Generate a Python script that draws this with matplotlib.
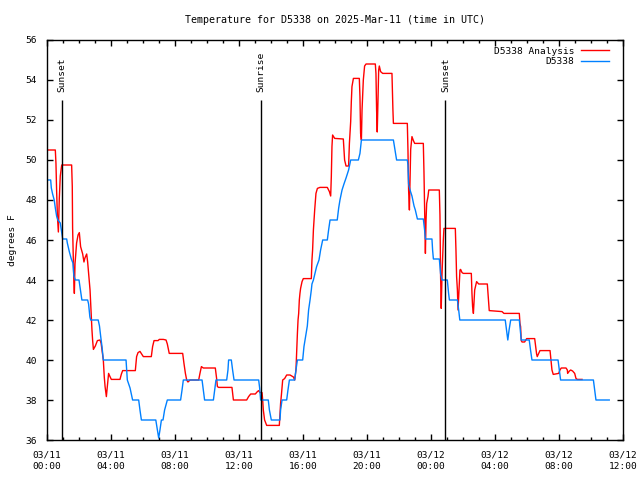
import matplotlib
matplotlib.use("Agg")
import matplotlib.pyplot as plt

# hours since 03/11 00:00 UTC
blue_t = [0.00, 0.23, 0.27, 0.35, 0.45, 0.52, 0.60, 0.68, 0.83, 0.98, 1.23, 1.27, 1.40, 1.52, 1.62,
          1.68, 1.77, 2.00, 2.08, 2.18, 2.54, 2.60, 2.68, 2.73, 3.20, 3.28, 3.36, 3.44, 3.52, 4.94,
          5.02, 5.19, 5.35, 5.73, 5.81, 5.90, 6.80, 6.90, 6.98, 7.06, 7.15, 7.25, 7.35, 7.52, 8.35,
          8.44, 8.52, 9.69, 9.77, 9.85, 10.40, 10.48, 10.56, 11.23, 11.31, 11.35, 11.52, 11.60, 11.69,
          13.23, 13.29, 13.35, 13.83, 13.90, 14.02, 14.56, 14.60, 14.69, 14.98, 15.06, 15.15, 15.48,
          15.56, 15.65, 15.98, 16.06, 16.19, 16.27, 16.35, 16.44, 16.52, 16.56, 16.65, 16.85, 17.00,
          17.10, 17.23, 17.52, 17.60, 17.69, 18.14, 18.23, 18.31, 18.44, 18.56, 18.69, 18.85, 18.98,
          19.46, 19.56, 19.65, 21.65, 21.73, 21.85, 22.52, 22.56, 22.60, 22.69, 22.81, 22.94, 23.02,
          23.15, 23.52, 23.60, 23.65, 24.06, 24.10, 24.15, 24.52, 24.60, 24.69, 25.02, 25.10, 25.15,
          25.65, 25.73, 25.80, 28.64, 28.72, 28.80, 28.88, 28.98, 29.52, 29.58, 29.64, 30.14, 30.22,
          30.31, 31.94, 32.02, 32.10, 34.15, 34.23, 34.31, 35.14]
blue_v = [49.0, 49.0, 48.6, 48.3, 48.0, 47.6, 47.2, 47.0, 46.85, 46.05, 46.05, 45.85, 45.4, 45.05, 44.85,
          44.2, 44.0, 44.0, 43.55, 43.0, 43.0, 42.8, 42.15, 42.0, 42.0, 41.7, 41.15, 40.65, 40.0, 40.0,
          39.0, 38.6, 38.0, 38.0, 37.5, 37.0, 37.0, 36.5, 36.1, 36.5, 37.0, 37.0, 37.5, 38.0, 38.0,
          38.5, 39.0, 39.0, 38.5, 38.0, 38.0, 38.5, 39.0, 39.0, 39.5, 40.0, 40.0, 39.5, 39.0,
          39.0, 38.6, 38.0, 38.0, 37.5, 37.0, 37.0, 37.5, 38.0, 38.0, 38.5, 39.0, 39.0,
          39.5, 40.0, 40.0, 40.67, 41.3, 41.7, 42.5, 43.0, 43.5, 43.8, 44.0, 44.67, 45.0,
          45.5, 46.0, 46.0, 46.5, 47.0, 47.0, 47.6, 48.0, 48.5, 48.8, 49.1, 49.5, 50.0,
          50.0, 50.33, 51.0, 51.0, 50.6, 50.0, 50.0, 49.75, 48.8, 48.5, 48.2, 47.7, 47.5,
          47.05, 47.05, 46.5, 46.05, 46.05, 45.5, 45.05, 45.05, 44.3, 44.0, 44.0, 43.33, 43.0,
          43.0, 42.5, 42.0, 42.0, 41.5, 41.0, 41.5, 42.0, 42.0, 41.5, 41.0, 41.0, 40.5,
          40.0, 40.0, 39.5, 39.0, 39.0, 38.5, 38.0, 38.0]

red_t = [0.00, 0.52, 0.56, 0.60, 0.65, 0.71, 0.77, 0.83, 0.92, 1.54, 1.58, 1.60, 1.67, 1.71, 1.75,
         1.85, 1.94, 2.02, 2.10, 2.23, 2.31, 2.37, 2.48, 2.54, 2.60, 2.69, 2.75, 2.81, 2.85, 2.90,
         3.02, 3.15, 3.31, 3.38, 3.52, 3.58, 3.63, 3.71, 3.75, 3.85, 3.92, 4.02, 4.56, 4.65, 4.73,
         5.52, 5.60, 5.69, 5.81, 5.94, 6.02, 6.52, 6.60, 6.69, 6.94, 7.02, 7.27, 7.44, 7.52, 7.64,
         8.48, 8.56, 8.65, 8.73, 8.81, 8.94, 9.48, 9.56, 9.65, 9.77, 10.52, 10.60, 10.65, 10.73,
         11.56, 11.65, 12.48, 12.60, 12.73, 13.02, 13.15, 13.23, 13.31, 13.44, 13.48, 13.52, 13.60,
         13.73, 14.52, 14.60, 14.65, 14.73, 14.85, 14.98, 15.19, 15.40, 15.48, 15.56, 15.60, 15.65,
         15.69, 15.73, 15.77, 15.81, 15.85, 15.94, 16.02, 16.52, 16.56, 16.60, 16.65, 16.73, 16.81,
         16.90, 17.06, 17.52, 17.65, 17.73, 17.77, 17.81, 17.85, 17.98, 18.52, 18.60, 18.69, 18.85,
         18.90, 18.98, 19.02, 19.06, 19.15, 19.52, 19.56, 19.60, 19.65, 19.69, 19.77, 19.85, 19.94,
         20.52, 20.56, 20.60, 20.64, 20.69, 20.73, 20.77, 20.85, 20.98, 21.56, 21.62, 21.65, 22.52,
         22.56, 22.60, 22.65, 22.73, 22.81, 22.90, 22.98, 23.52, 23.56, 23.60, 23.65, 23.69, 23.73,
         23.81, 23.86, 24.52, 24.56, 24.60, 24.64, 24.69, 24.77, 24.81, 25.52, 25.56, 25.60, 25.65,
         25.69, 25.77, 25.81, 25.85, 25.94, 26.02, 26.52, 26.56, 26.60, 26.65, 26.73, 26.85, 26.98,
         27.52, 27.56, 27.60, 27.64, 28.44, 28.56, 29.52, 29.56, 29.60, 29.64, 29.69, 29.85, 29.98,
         30.48, 30.56, 30.60, 30.64, 30.73, 30.81, 31.44, 31.52, 31.56, 31.64, 31.98, 32.06, 32.14,
         32.44, 32.52, 32.54, 32.65, 32.73, 32.85, 32.98, 33.06, 33.14, 33.44]
red_v = [50.5, 50.5, 49.83, 48.5, 47.2, 46.4, 48.1, 49.2, 49.75, 49.75, 48.67, 46.6, 44.2, 43.33, 44.8,
         45.85, 46.25, 46.37, 45.67, 45.3, 44.9, 45.1, 45.3, 44.9, 44.33, 43.5, 42.5, 41.5, 41.0, 40.53,
         40.7, 40.97, 41.0, 40.85, 40.0, 39.15, 38.67, 38.17, 38.5, 39.33, 39.2, 39.03, 39.03, 39.3, 39.47,
         39.47, 40.17, 40.37, 40.43, 40.27, 40.17, 40.17, 40.67, 40.97, 40.97, 41.03, 41.03, 41.0, 40.8, 40.33,
         40.33, 39.83, 39.33, 39.0, 38.9, 39.0, 39.0, 39.33, 39.67, 39.6, 39.6, 39.08, 38.67, 38.63,
         38.63, 38.0, 38.0, 38.17, 38.3, 38.3, 38.42, 38.47, 38.37, 38.37, 38.0, 37.5, 37.0,
         36.73, 36.73, 37.83, 38.25, 39.0, 39.07, 39.25, 39.25, 39.15, 39.0, 39.5, 40.33, 41.33,
         42.0, 42.33, 43.0, 43.33, 43.58, 43.92, 44.07, 44.07, 45.0, 45.5, 46.5, 47.5, 48.33,
         48.58, 48.63, 48.63, 48.42, 48.2, 49.17, 50.67, 51.25, 51.08, 51.05, 50.0, 49.7, 49.7,
         50.83, 51.92, 52.92, 53.67, 54.08, 54.08, 53.17, 51.33, 51.0, 52.5, 54.0, 54.7, 54.8,
         54.8, 54.33, 52.5, 51.4, 53.0, 54.5, 54.7, 54.42, 54.33, 54.33, 52.5, 51.83, 51.83,
         50.5, 48.5, 47.5, 50.53, 51.17, 50.97, 50.83, 50.83, 49.42, 47.5, 45.33, 47.0, 47.83,
         48.17, 48.5, 48.5, 47.25, 44.17, 42.58, 44.33, 46.0, 46.58, 46.58, 45.5, 44.17, 43.5,
         42.5, 43.83, 44.5, 44.53, 44.37, 44.33, 44.33, 43.33, 42.67, 42.33, 43.5, 43.92, 43.8,
         43.8, 43.33, 42.83, 42.47, 42.42, 42.33, 42.33, 41.83, 41.67, 40.97, 40.9, 40.9, 41.07,
         41.07, 40.58, 40.3, 40.17, 40.33, 40.47, 40.47, 39.83, 39.5, 39.28, 39.33, 39.5, 39.6,
         39.6, 39.5, 39.33, 39.45, 39.5, 39.45, 39.33, 39.08, 39.03, 39.03]

sun_times = [0.96, 13.35, 24.9]
sun_labels = ["Sunset", "Sunrise", "Sunset"]

tick_hours = [0, 4, 8, 12, 16, 20, 24, 28, 32, 36]
tick_labels = ["03/11\n00:00", "03/11\n04:00", "03/11\n08:00", "03/11\n12:00", "03/11\n16:00",
               "03/11\n20:00", "03/12\n00:00", "03/12\n04:00", "03/12\n08:00", "03/12\n12:00"]

plt.rcParams["font.family"] = ["DejaVu Sans Mono"]
plt.rcParams["font.size"] = 6.8

fig = plt.figure(figsize=(6.4, 4.8), dpi=100)
ax = fig.add_axes([47 / 640, 40 / 480, 576 / 640, 400 / 480])

ax.plot(red_t, red_v, color="#ff0000", linewidth=1.0, label="D5338 Analysis")
ax.plot(blue_t, blue_v, color="#0080ff", linewidth=1.0, label="D5338")

for t, lab in zip(sun_times, sun_labels):
    ax.vlines(t, 36, 53.0, color="black", linewidth=1.0)
    ax.text(t, 53.4, lab, rotation=90, ha="center", va="bottom")

ax.set_xlim(0, 36)
ax.set_ylim(36, 56)
ax.set_xticks(tick_hours)
ax.set_xticklabels(tick_labels, linespacing=1.35)
ax.set_xticks(range(0, 37), minor=True)
ax.set_yticks(range(36, 57, 2))
ax.tick_params(which="both", direction="in", top=True, right=True, width=1.0)
ax.tick_params(which="major", length=4.5, pad=7.5)
ax.tick_params(which="minor", length=2.5)
for s in ax.spines.values():
    s.set_linewidth(1.0)

ax.set_title("Temperature for D5338 on 2025-Mar-11 (time in UTC)", fontsize=7.2, pad=12.5)
ax.set_ylabel("degrees F", labelpad=6)
ax.legend(loc="upper right", bbox_to_anchor=(0.9816, 0.993), borderaxespad=0,
          frameon=False, markerfirst=False, handlelength=2.9,
          labelspacing=0.2, handletextpad=0.7)

fig.savefig("out.png", dpi=100)
